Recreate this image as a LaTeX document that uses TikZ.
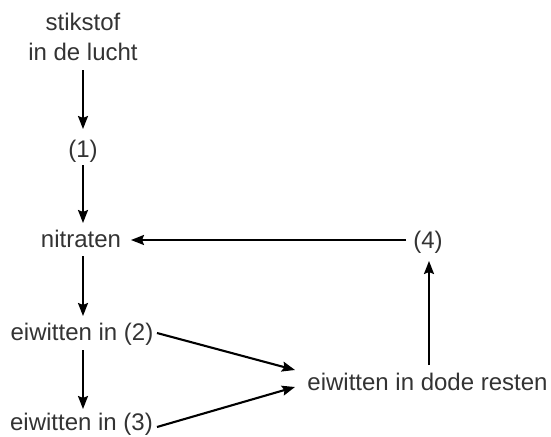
\documentclass[tikz,border=0pt]{standalone}
\usepackage{fontspec}
\setmainfont{Liberation Sans}
\usetikzlibrary{arrows.meta}
\definecolor{txt}{HTML}{333333}
\begin{document}
\begin{tikzpicture}[x=1pt,y=-1pt,
  lbl/.style={inner sep=0pt,text=txt,font=\fontsize{24}{29}\selectfont,align=center,anchor=base},
  arr/.style={line width=2.1pt,-{Stealth[length=13pt,width=10pt,inset=2pt]}}]
\useasboundingbox (0,0) rectangle (551,436);
\node[lbl] (air) at (83,60) {stikstof\\in de lucht};
\node[lbl] (one) at (83,157) {(1)};
\node[lbl] (nit) at (81,247) {nitraten};
\node[lbl] (four) at (428,248) {(4)};
\node[lbl] (e2) at (82,340) {eiwitten in (2)};
\node[lbl] (e3) at (81.5,430) {eiwitten in (3)};
\node[lbl] (dead) at (427.5,390) {eiwitten in dode resten};
\coordinate (a1s) at (83,70);
\coordinate (a1e) at (83,129);
\coordinate (a2s) at (83,165);
\coordinate (a2e) at (83,223);
\coordinate (a3s) at (83,256);
\coordinate (a3e) at (83,316);
\coordinate (a4s) at (83,350);
\coordinate (a4e) at (83,409);
\coordinate (h1s) at (406,240);
\coordinate (h1e) at (131,240);
\coordinate (v1s) at (429,365);
\coordinate (v1e) at (429,261);
\coordinate (d1s) at (157,333);
\coordinate (d1e) at (295,370);
\coordinate (d2s) at (157,427);
\coordinate (d2e) at (295,387);
\draw[arr] (a1s) -- (a1e);
\draw[arr] (a2s) -- (a2e);
\draw[arr] (a3s) -- (a3e);
\draw[arr] (a4s) -- (a4e);
\draw[arr] (h1s) -- (h1e);
\draw[arr] (v1s) -- (v1e);
\draw[arr] (d1s) -- (d1e);
\draw[arr] (d2s) -- (d2e);
\end{tikzpicture}
\end{document}
